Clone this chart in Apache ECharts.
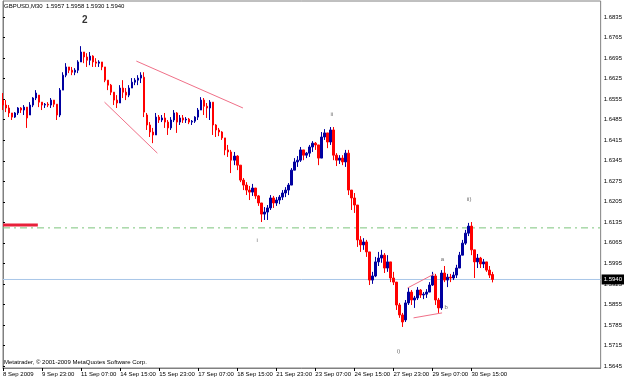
<!DOCTYPE html>
<html>
<head>
<meta charset="utf-8">
<script src="https://cdn.jsdelivr.net/npm/echarts@6/dist/echarts.min.js"></script>
<style>
	html, body { margin: 0; padding: 0; background: #fff; }
	#chart { width: 625px; height: 378px; }
</style>
</head>
<body>
<div id="chart"></div>
<script>
	// GBPUSD M30, 8 - 30 Sep 2009, each bar here groups ~5 half-hour bars
	const chartTitle = 'GBPUSD,M30  1.5957 1.5958 1.5930 1.5940';
	const copyright = 'Metatrader, \u00a9 2001-2009 MetaQuotes Software Corp.';
	const slotCount = 200;
	const barsPerTick = 13;
	const tickLabels = ['8 Sep 2009', '9 Sep 23:00', '11 Sep 07:00', '14 Sep 15:00', '15 Sep 23:00', '17 Sep 07:00',
		'18 Sep 15:00', '21 Sep 23:00', '23 Sep 07:00', '24 Sep 15:00', '27 Sep 23:00', '29 Sep 07:00', '30 Sep 15:00'];
	const priceTicks = [1.5645, 1.5715, 1.5785, 1.5855, 1.5925, 1.5995, 1.6065, 1.6135, 1.6205, 1.6275,
		1.6345, 1.6415, 1.6485, 1.6555, 1.6625, 1.6695, 1.6765, 1.6835];
	const bidPrice = 1.5940;
	const levelPrice = 1.6116;

	// [open, close, low, high]
	const bars = [
		[1.6552, 1.6535, 1.6518, 1.6576], [1.6535, 1.6525, 1.6511, 1.6552], [1.6525, 1.6508, 1.6494, 1.6535], [1.6508, 1.6494, 1.6484, 1.6508],
		[1.6494, 1.6508, 1.6491, 1.6511], [1.6508, 1.6525, 1.6501, 1.6528], [1.6525, 1.6518, 1.6508, 1.6528], [1.6518, 1.6528, 1.6501, 1.6535],
		[1.6528, 1.6491, 1.6457, 1.6528], [1.6501, 1.6535, 1.6501, 1.6545], [1.6535, 1.6559, 1.6528, 1.6562], [1.6559, 1.6576, 1.6552, 1.6586],
		[1.6569, 1.6545, 1.6528, 1.6569], [1.6545, 1.6535, 1.6518, 1.6545], [1.6535, 1.6538, 1.6525, 1.6542], [1.6538, 1.6535, 1.6528, 1.6545],
		[1.6535, 1.6552, 1.6525, 1.6559], [1.6552, 1.6538, 1.6528, 1.6552], [1.6538, 1.6501, 1.6484, 1.6538], [1.6501, 1.6586, 1.6494, 1.6593],
		[1.6586, 1.6637, 1.6586, 1.6647], [1.6637, 1.6665, 1.6630, 1.6678], [1.6665, 1.6654, 1.6644, 1.6665], [1.6654, 1.6647, 1.6637, 1.6665],
		[1.6647, 1.6654, 1.6637, 1.6661], [1.6654, 1.6682, 1.6644, 1.6688], [1.6682, 1.6716, 1.6682, 1.6736], [1.6716, 1.6699, 1.6678, 1.6716],
		[1.6699, 1.6688, 1.6665, 1.6712], [1.6688, 1.6702, 1.6671, 1.6716], [1.6702, 1.6682, 1.6665, 1.6705], [1.6682, 1.6678, 1.6665, 1.6695],
		[1.6678, 1.6682, 1.6665, 1.6688], [1.6682, 1.6665, 1.6654, 1.6682], [1.6665, 1.6620, 1.6613, 1.6665], [1.6620, 1.6603, 1.6586, 1.6620],
		[1.6603, 1.6579, 1.6569, 1.6607], [1.6579, 1.6552, 1.6535, 1.6579], [1.6552, 1.6542, 1.6525, 1.6569], [1.6542, 1.6593, 1.6542, 1.6603],
		[1.6593, 1.6579, 1.6559, 1.6620], [1.6579, 1.6569, 1.6552, 1.6593], [1.6569, 1.6593, 1.6562, 1.6603], [1.6593, 1.6613, 1.6593, 1.6627],
		[1.6613, 1.6620, 1.6603, 1.6627], [1.6620, 1.6627, 1.6603, 1.6637], [1.6627, 1.6637, 1.6610, 1.6647], [1.6630, 1.6511, 1.6494, 1.6647],
		[1.6501, 1.6467, 1.6450, 1.6508], [1.6467, 1.6443, 1.6426, 1.6477], [1.6443, 1.6433, 1.6405, 1.6457], [1.6433, 1.6494, 1.6433, 1.6508],
		[1.6494, 1.6484, 1.6474, 1.6501], [1.6484, 1.6491, 1.6477, 1.6501], [1.6491, 1.6477, 1.6457, 1.6508], [1.6477, 1.6457, 1.6433, 1.6484],
		[1.6457, 1.6484, 1.6450, 1.6494], [1.6484, 1.6508, 1.6477, 1.6518], [1.6508, 1.6477, 1.6440, 1.6511], [1.6477, 1.6491, 1.6467, 1.6501],
		[1.6491, 1.6484, 1.6474, 1.6501], [1.6484, 1.6487, 1.6474, 1.6494], [1.6487, 1.6477, 1.6470, 1.6491], [1.6477, 1.6480, 1.6467, 1.6484],
		[1.6480, 1.6494, 1.6474, 1.6497], [1.6494, 1.6518, 1.6484, 1.6525], [1.6518, 1.6552, 1.6518, 1.6562], [1.6552, 1.6531, 1.6501, 1.6559],
		[1.6531, 1.6525, 1.6491, 1.6542], [1.6525, 1.6545, 1.6484, 1.6552], [1.6545, 1.6467, 1.6433, 1.6545], [1.6467, 1.6450, 1.6426, 1.6470],
		[1.6450, 1.6443, 1.6429, 1.6457], [1.6443, 1.6423, 1.6416, 1.6446], [1.6423, 1.6382, 1.6364, 1.6423], [1.6382, 1.6375, 1.6358, 1.6399],
		[1.6375, 1.6347, 1.6303, 1.6382], [1.6347, 1.6361, 1.6330, 1.6375], [1.6361, 1.6330, 1.6313, 1.6364], [1.6330, 1.6279, 1.6272, 1.6330],
		[1.6279, 1.6262, 1.6245, 1.6286], [1.6262, 1.6245, 1.6228, 1.6272], [1.6245, 1.6238, 1.6211, 1.6259], [1.6238, 1.6252, 1.6225, 1.6266],
		[1.6252, 1.6225, 1.6215, 1.6252], [1.6225, 1.6201, 1.6191, 1.6228], [1.6201, 1.6163, 1.6136, 1.6201], [1.6163, 1.6170, 1.6143, 1.6187],
		[1.6170, 1.6184, 1.6143, 1.6194], [1.6184, 1.6218, 1.6177, 1.6228], [1.6218, 1.6201, 1.6184, 1.6225], [1.6201, 1.6211, 1.6191, 1.6221],
		[1.6211, 1.6221, 1.6197, 1.6228], [1.6221, 1.6235, 1.6211, 1.6245], [1.6235, 1.6245, 1.6221, 1.6255], [1.6245, 1.6262, 1.6228, 1.6269],
		[1.6262, 1.6313, 1.6262, 1.6320], [1.6313, 1.6341, 1.6313, 1.6354], [1.6341, 1.6347, 1.6324, 1.6361], [1.6347, 1.6382, 1.6341, 1.6392],
		[1.6382, 1.6364, 1.6347, 1.6382], [1.6364, 1.6371, 1.6354, 1.6375], [1.6371, 1.6392, 1.6358, 1.6399], [1.6392, 1.6405, 1.6375, 1.6412],
		[1.6405, 1.6399, 1.6382, 1.6409], [1.6399, 1.6354, 1.6330, 1.6399], [1.6354, 1.6426, 1.6354, 1.6443], [1.6426, 1.6440, 1.6416, 1.6453],
		[1.6440, 1.6409, 1.6388, 1.6440], [1.6409, 1.6450, 1.6399, 1.6460], [1.6450, 1.6364, 1.6347, 1.6460], [1.6364, 1.6347, 1.6327, 1.6371],
		[1.6347, 1.6354, 1.6334, 1.6364], [1.6354, 1.6341, 1.6330, 1.6364], [1.6341, 1.6371, 1.6324, 1.6382], [1.6371, 1.6245, 1.6228, 1.6382],
		[1.6245, 1.6218, 1.6177, 1.6245], [1.6218, 1.6194, 1.6167, 1.6235], [1.6194, 1.6075, 1.6051, 1.6194], [1.6075, 1.6058, 1.6034, 1.6088],
		[1.6058, 1.6068, 1.6041, 1.6081], [1.6068, 1.6034, 1.6017, 1.6075], [1.6034, 1.5938, 1.5921, 1.6034], [1.5938, 1.5952, 1.5925, 1.5966],
		[1.5952, 1.6000, 1.5948, 1.6017], [1.6000, 1.6013, 1.5986, 1.6034], [1.6013, 1.6023, 1.5997, 1.6041], [1.6023, 1.5979, 1.5962, 1.6030],
		[1.5979, 1.6000, 1.5966, 1.6023], [1.6000, 1.5945, 1.5931, 1.6000], [1.5945, 1.5931, 1.5921, 1.5966], [1.5931, 1.5853, 1.5836, 1.5931],
		[1.5853, 1.5819, 1.5809, 1.5860], [1.5819, 1.5795, 1.5778, 1.5826], [1.5802, 1.5860, 1.5795, 1.5870], [1.5860, 1.5897, 1.5853, 1.5911],
		[1.5897, 1.5870, 1.5853, 1.5904], [1.5870, 1.5877, 1.5843, 1.5884], [1.5877, 1.5904, 1.5870, 1.5914], [1.5904, 1.5887, 1.5877, 1.5907],
		[1.5887, 1.5890, 1.5873, 1.5897], [1.5890, 1.5897, 1.5877, 1.5907], [1.5897, 1.5921, 1.5897, 1.5931], [1.5921, 1.5952, 1.5918, 1.5966],
		[1.5952, 1.5870, 1.5853, 1.5959], [1.5870, 1.5843, 1.5826, 1.5877], [1.5843, 1.5962, 1.5836, 1.5972], [1.5962, 1.5938, 1.5931, 1.5986],
		[1.5938, 1.5948, 1.5914, 1.5959], [1.5948, 1.5945, 1.5931, 1.5959], [1.5945, 1.5955, 1.5938, 1.5966], [1.5955, 1.5979, 1.5945, 1.5990],
		[1.5979, 1.6023, 1.5979, 1.6034], [1.6023, 1.6064, 1.6023, 1.6075], [1.6064, 1.6098, 1.6058, 1.6109], [1.6098, 1.6122, 1.6088, 1.6133],
		[1.6122, 1.6041, 1.6023, 1.6136], [1.6041, 1.6000, 1.5945, 1.6041], [1.6000, 1.6013, 1.5979, 1.6027], [1.6013, 1.5993, 1.5979, 1.6017],
		[1.5993, 1.6000, 1.5979, 1.6010], [1.6000, 1.5972, 1.5966, 1.6000], [1.5972, 1.5955, 1.5945, 1.5986], [1.5957, 1.5940, 1.5930, 1.5966]
	];

	// drawn objects: [bar index from, price, bar index to, price]
	const trendLines = [
		[33.8, 1.6545, 51.4, 1.6371],
		[44.4, 1.6685, 79.9, 1.6525],
		[134.7, 1.5911, 143.6, 1.5959],
		[136.7, 1.5809, 146.2, 1.5826]
	];
	const oldLevel = [0, 1.6126, 11.6, 1.6126];
	// wave labels: [bar index, price, text]
	const waveLabels = [
		[27.2, 1.6825, '2'],
		[109.5, 1.6504, 'ii'],
		[84.6, 1.6075, 'i'],
		[155.2, 1.6215, 'ii)'],
		[146.3, 1.6010, 'a'],
		[147.6, 1.5846, 'b'],
		[131.7, 1.5696, 'i)']
	];

	const font = 'Liberation Sans';
	const slots = Array.from({ length: slotCount }, (_, i) => i);
	const showTick = (idx) => idx % barsPerTick === 0 && idx / barsPerTick < tickLabels.length;

	let chart = echarts.init(document.getElementById('chart'));
	let option = {
		animation: false,
		backgroundColor: '#ffffff',
		title: {
			text: chartTitle,
			left: 4,
			top: 3,
			padding: 0,
			textStyle: { fontSize: 6, fontWeight: 'normal', color: '#000', fontFamily: font }
		},
		graphic: [{
			type: 'text',
			left: 4,
			top: 359,
			style: { text: copyright, fill: '#000', font: '6px "Liberation Sans"' }
		}],
		grid: {
			left: 2, right: 23, top: 1, bottom: 10,
			show: true,
			borderColor: '#808080',
			borderWidth: 1
		},
		xAxis: [{
			type: 'category',
			data: slots,
			boundaryGap: false,
			axisLine: { lineStyle: { color: '#808080' } },
			axisTick: { interval: showTick, length: 3, lineStyle: { color: '#000' } },
			axisLabel: {
				interval: showTick,
				formatter: (v, idx) => tickLabels[idx / barsPerTick] || '',
				align: 'left',
				margin: 3,
				fontSize: 6,
				color: '#000',
				fontFamily: font
			},
			splitLine: { show: false }
		}, {
			type: 'value',
			min: 0,
			max: slotCount - 1,
			show: false
		}],
		yAxis: {
			type: 'value',
			position: 'right',
			min: 1.5638,
			max: 1.6890,
			splitLine: { show: false },
			axisLine: { show: true, lineStyle: { color: '#808080' } },
			axisTick: { show: true, length: 2, customValues: priceTicks, lineStyle: { color: '#000' } },
			axisLabel: {
				customValues: priceTicks,
				formatter: (v) => v.toFixed(4),
				margin: 3,
				fontSize: 6,
				color: '#000',
				fontFamily: font
			}
		},
		series: [{
			type: 'candlestick',
			data: bars,
			barWidth: 2,
			itemStyle: {
				color: '#0000a0',
				color0: '#ff0000',
				borderColor: '#0000a0',
				borderColor0: '#ff0000',
				borderWidth: 1
			}
		}, {
			// horizontal levels across the whole window
			type: 'line',
			xAxisIndex: 1,
			data: [[0, levelPrice], [slotCount - 1, levelPrice]],
			showSymbol: false,
			silent: true,
			z: 1,
			lineStyle: { color: '#7cc47c', type: [7, 4, 2, 4], width: 1 }
		}, {
			type: 'line',
			xAxisIndex: 1,
			data: [[0, bidPrice], [slotCount - 1, bidPrice]],
			showSymbol: false,
			silent: true,
			z: 1,
			lineStyle: { color: '#a8c6e8', width: 1 },
			endLabel: {
				show: true,
				distance: 1,
				formatter: bidPrice.toFixed(4),
				backgroundColor: '#000',
				color: '#fff',
				padding: [2, 2],
				fontSize: 6,
				fontFamily: font
			}
		}].concat(trendLines.map((t) => ({
			type: 'line',
			xAxisIndex: 1,
			data: [[t[0], t[1]], [t[2], t[3]]],
			showSymbol: false,
			silent: true,
			lineStyle: { color: '#f07088', width: 1 }
		}))).concat([{
			type: 'line',
			xAxisIndex: 1,
			data: [[oldLevel[0], oldLevel[1]], [oldLevel[2], oldLevel[3]]],
			showSymbol: false,
			silent: true,
			lineStyle: { color: '#e8203a', width: 3 }
		}, {
			type: 'scatter',
			xAxisIndex: 1,
			symbolSize: 0,
			silent: true,
			data: waveLabels.map((w) => ({
				value: [w[0], w[1]],
				label: {
					show: true,
					position: 'inside',
					formatter: w[2],
					color: w[2] === '2' ? '#000' : '#444',
					fontSize: w[2] === '2' ? 10 : 6,
					fontWeight: w[2] === '2' ? 'bold' : 'normal',
					fontFamily: font
				}
			}))
		}])
	};

	chart.setOption(option);
	window.addEventListener('resize', function() {
		chart.resize();
	});
</script>
</body>
</html>
